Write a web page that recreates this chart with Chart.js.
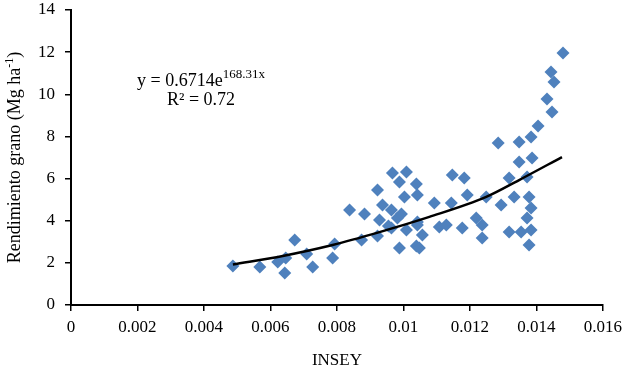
<!DOCTYPE html>
<html>
<head>
<meta charset="utf-8">
<script src="https://cdn.jsdelivr.net/npm/chart.js@4"></script>
<style>
  html, body { margin: 0; padding: 0; background: #fff; }
  #wrap { width: 628px; height: 371px; }
</style>
</head>
<body>
<div id="wrap"><canvas id="grafico" width="628" height="371"></canvas></div>
<script>
// INSEY (x) frente a rendimiento de grano (y)
const insey = [
  0.00487, 0.00568, 0.00622, 0.00643, 0.00646, 0.00673, 0.00709, 0.00727,
  0.00787, 0.00793, 0.00838, 0.00874, 0.00883, 0.00922, 0.00937, 0.00928,
  0.00922, 0.00964, 0.00967, 0.00988, 0.01009, 0.01003, 0.00982, 0.00964,
  0.01009, 0.00988, 0.01039, 0.01042, 0.01039, 0.01042, 0.01057, 0.01093,
  0.01108, 0.01129, 0.01144, 0.01147, 0.01183, 0.01192, 0.01177, 0.01219,
  0.01237, 0.01237, 0.01249, 0.01285, 0.01294, 0.01318, 0.01318, 0.01333,
  0.01348, 0.01348, 0.01354, 0.01372, 0.01372, 0.01378, 0.01384, 0.01384,
  0.01378, 0.01387, 0.01384, 0.01405, 0.01432, 0.01447, 0.01444, 0.01453,
  0.01480, 0.00994, 0.01042, 0.00955, 0.01048
];
const rendimiento = [
  1.85, 1.80, 2.04, 1.52, 2.23, 3.08, 2.42, 1.80,
  2.23, 2.90, 4.51, 3.08, 4.32, 5.46, 4.75, 4.03,
  3.27, 4.51, 6.26, 5.84, 6.31, 5.13, 4.13, 3.65,
  3.56, 2.71, 2.80, 3.80, 5.74, 5.22, 3.32, 4.84,
  3.70, 3.80, 4.84, 6.17, 6.03, 5.22, 3.65, 4.13,
  3.80, 3.18, 5.13, 7.69, 4.75, 6.03, 3.46, 5.13,
  6.79, 7.74, 3.46, 6.08, 4.13, 5.13, 4.60, 3.56,
  2.85, 6.98, 7.97, 8.50, 9.78, 9.16, 11.06, 10.58,
  11.96, 4.32, 3.94, 3.75, 2.70
];

// curva de tendencia
const tendX = [0.00487, 0.00637, 0.00787, 0.00928, 0.01078, 0.01249, 0.01348, 0.01477];
const tendY = [1.92, 2.33, 2.85, 3.46, 4.18, 5.13, 5.93, 7.02];

const xTickLabels = ['0', '0.002', '0.004', '0.006', '0.008', '0.01', '0.012', '0.014', '0.016'];
const yTickLabels = ['0', '2', '4', '6', '8', '10', '12', '14'];

const FUENTE = '"Liberation Serif", "Times New Roman", serif';
const AZUL = '#4F81BD';

// Titulo del eje Y con superindice y ecuacion de ajuste
const textosPlugin = {
  id: 'textos',
  afterDraw(chart) {
    const ctx = chart.ctx;
    const area = chart.chartArea;
    ctx.save();
    ctx.fillStyle = '#000';
    ctx.textBaseline = 'alphabetic';

    // eje Y
    const base = 'Rendimiento grano (Mg ha';
    const sup = '-1';
    const cierre = ')';
    ctx.font = '18px ' + FUENTE;
    const wBase = ctx.measureText(base).width;
    const wCierre = ctx.measureText(cierre).width;
    ctx.font = '12px ' + FUENTE;
    const wSup = ctx.measureText(sup).width;
    const total = wBase + wSup + wCierre;
    ctx.translate(20, (area.top + area.bottom) / 2 + total / 2);
    ctx.rotate(-Math.PI / 2);
    ctx.font = '18px ' + FUENTE;
    ctx.textAlign = 'left';
    ctx.fillText(base, 0, 0);
    ctx.font = '12px ' + FUENTE;
    ctx.fillText(sup, wBase, -7);
    ctx.font = '18px ' + FUENTE;
    ctx.fillText(cierre, wBase + wSup, 0);
    ctx.restore();

    // ecuacion
    ctx.save();
    ctx.fillStyle = '#000';
    ctx.textAlign = 'left';
    ctx.font = '18px ' + FUENTE;
    const eq = 'y = 0.6714e';
    ctx.fillText(eq, 137, 86);
    const wEq = ctx.measureText(eq).width;
    ctx.font = '13px ' + FUENTE;
    ctx.fillText('168.31x', 137 + wEq, 78);
    ctx.font = '18px ' + FUENTE;
    ctx.fillText('R\u00B2 = 0.72', 167, 105);
    ctx.restore();
  }
};

new Chart(document.getElementById('grafico'), {
  type: 'scatter',
  data: {
    datasets: [
      {
        label: 'Datos',
        data: insey.map((x, i) => ({ x: x, y: rendimiento[i] })),
        pointStyle: 'rectRot',
        pointRadius: 6.5,
        pointBackgroundColor: AZUL,
        pointBorderColor: AZUL,
        pointBorderWidth: 0,
        order: 2
      },
      {
        label: 'Tendencia',
        type: 'line',
        data: tendX.map((x, i) => ({ x: x, y: tendY[i] })),
        borderColor: '#000',
        borderWidth: 2.5,
        pointRadius: 0,
        tension: 0.4,
        cubicInterpolationMode: 'monotone',
        fill: false,
        order: 1
      }
    ]
  },
  options: {
    responsive: false,
    animation: false,
    layout: { padding: { left: 0, right: 24, top: 10, bottom: 0 } },
    plugins: {
      legend: { display: false },
      tooltip: { enabled: false }
    },
    scales: {
      x: {
        type: 'linear',
        min: 0,
        max: 0.016,
        afterFit(scale) { scale.height = 66; },
        ticks: {
          stepSize: 0.002,
          color: '#000',
          padding: 6,
          maxRotation: 0,
          font: { family: FUENTE, size: 17 },
          callback: (v, i) => xTickLabels[i]
        },
        grid: { drawOnChartArea: false, drawTicks: true, tickLength: 6, color: '#000', lineWidth: 1.5 },
        border: { color: '#000', width: 2 },
        title: {
          display: true,
          text: 'INSEY',
          color: '#000',
          font: { family: FUENTE, size: 17 },
          padding: { top: 14, bottom: 0 }
        }
      },
      y: {
        min: 0,
        max: 14,
        afterFit(scale) {
          scale.width = 71;
          scale.paddingTop = 0;
          scale.paddingBottom = 0;
        },
        ticks: {
          stepSize: 2,
          color: '#000',
          padding: 10,
          font: { family: FUENTE, size: 17 },
          callback: (v, i) => yTickLabels[i]
        },
        grid: { drawOnChartArea: false, drawTicks: true, tickLength: 6, color: '#000', lineWidth: 1.5 },
        border: { color: '#000', width: 2 }
      }
    }
  },
  plugins: [textosPlugin]
});
</script>
</body>
</html>
